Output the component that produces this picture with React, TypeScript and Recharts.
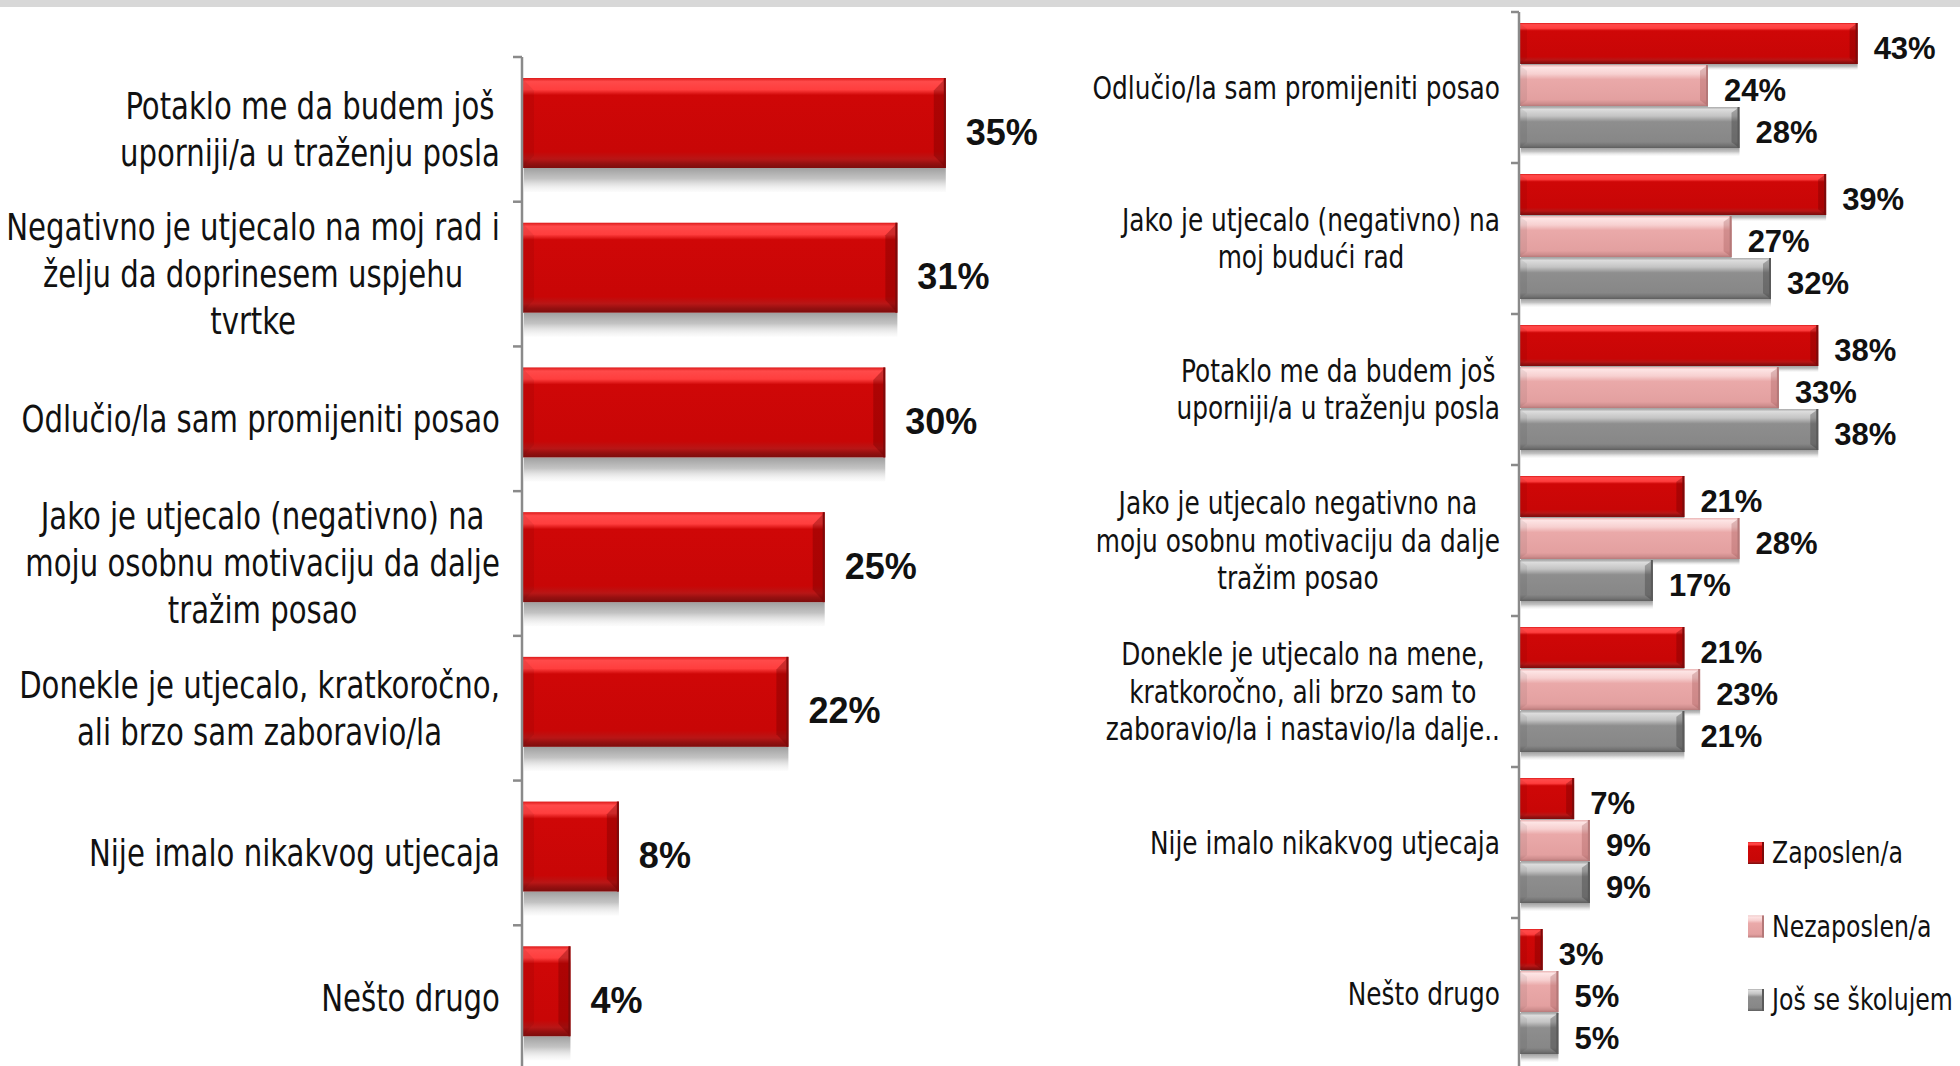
import React from 'react';
import { BarChart, Bar, XAxis, YAxis, LabelList, Legend } from 'recharts';

// ---------- DATA ----------
const leftCategories = [
  'Potaklo me da budem još\nuporniji/a u traženju posla',
  'Negativno je utjecalo na moj rad i\nželju da doprinesem uspjehu\ntvrtke',
  'Odlučio/la sam promijeniti posao',
  'Jako je utjecalo (negativno) na\nmoju osobnu motivaciju da dalje\ntražim posao',
  'Donekle je utjecalo, kratkoročno,\nali brzo sam zaboravio/la',
  'Nije imalo nikakvog utjecaja',
  'Nešto drugo',
];
const leftValues = [35, 31, 30, 25, 22, 8, 4];

const rightCategories = [
  'Odlučio/la sam promijeniti posao',
  'Jako je utjecalo (negativno) na\nmoj budući rad',
  'Potaklo me da budem još\nuporniji/a u traženju posla',
  'Jako je utjecalo negativno na\nmoju osobnu motivaciju da dalje\ntražim posao',
  'Donekle je utjecalo na mene,\nkratkoročno, ali brzo sam to\nzaboravio/la i nastavio/la dalje..',
  'Nije imalo nikakvog utjecaja',
  'Nešto drugo',
];
const seriesNames = ['Zaposlen/a', 'Nezaposlen/a', 'Još se školujem'];
const zaposlenValues = [43, 39, 38, 21, 21, 7, 3];
const nezaposlenValues = [24, 27, 33, 28, 23, 9, 5];
const skolujemValues = [28, 32, 38, 17, 21, 9, 5];

const leftData = leftCategories.map((name, i) => ({ name, value: leftValues[i] }));
const rightData = rightCategories.map((name, i) => ({
  name,
  zap: zaposlenValues[i],
  nez: nezaposlenValues[i],
  sko: skolujemValues[i],
}));

// ---------- STYLE ----------
const NARROW = "'DejaVu Sans Condensed', 'DejaVu Sans', sans-serif";
const SX = 0.876; // horizontal compression of label text
const BOLD = "'Liberation Sans', Arial, sans-serif";
const AXIS_COLOR = '#8a8a8a';

const KINDS: Record<string, { grad: string; edge: string; endDark: string }> = {
  red: { grad: 'url(#gRed)', edge: '#7e0a0a', endDark: 'rgba(110,0,0,0.35)' },
  pink: { grad: 'url(#gPink)', edge: '#b47878', endDark: 'rgba(140,60,60,0.25)' },
  gray: { grad: 'url(#gGray)', edge: '#5a5a5a', endDark: 'rgba(40,40,40,0.3)' },
};

let ctx: CanvasRenderingContext2D | null = null;
function textWidth(t: string, font: string): number {
  if (!ctx) ctx = document.createElement('canvas').getContext('2d');
  if (!ctx) return t.length * 10;
  ctx.font = font;
  return ctx.measureText(t).width;
}

function makeTick(fontSize: number, lineHeight: number, gap: number, band: number, tickLen: number) {
  return (props: any) => {
    const { x, y, payload } = props;
    const lines = String(payload.value).split('\n');
    const font = `${fontSize}px ${NARROW}`;
    const w = Math.max(...lines.map((l) => textWidth(l, font))) * SX;
    const cx = x - gap - w / 2;
    const top = y - ((lines.length - 1) * lineHeight) / 2;
    return (
      <g>
        <line x1={x - tickLen} x2={x} y1={y - band / 2} y2={y - band / 2} stroke={AXIS_COLOR} strokeWidth={2.5} />
        <text
          textAnchor="middle"
          fontFamily={NARROW}
          fontSize={fontSize}
          fill="#111"
          transform={`translate(${cx} 0) scale(${SX} 1) translate(${-cx} 0)`}
        >
          {lines.map((l, i) => (
            <tspan key={i} x={cx} y={top + i * lineHeight} dy="0.35em">
              {l}
            </tspan>
          ))}
        </text>
      </g>
    );
  };
}

function makeBarShape(kind: string, shift: number, shadowH: number, bevel: number) {
  const k = KINDS[kind];
  return (props: any) => {
    const { x, y, width, height } = props;
    if (!width || width <= 0) return <g />;
    const yy = y - shift;
    const b = Math.min(bevel, width / 3);
    const bh = height * 0.14;
    return (
      <g>
        {shadowH > 0 && (
          <rect x={x + 2} y={yy + height} width={Math.max(0, width - 2)} height={shadowH} fill="url(#gShadow)" />
        )}
        <rect x={x} y={yy} width={width} height={height} fill={k.grad} />
        <polygon
          points={`${x},${yy} ${x + b},${yy + bh} ${x + b},${yy + height - bh} ${x},${yy + height}`}
          fill="rgba(0,0,0,0.06)"
        />
        <polygon
          points={`${x + width},${yy} ${x + width - b},${yy + bh} ${x + width - b},${yy + height - bh} ${x + width},${yy + height}`}
          fill={k.endDark}
        />
        <rect x={x + width - 2} y={yy} width={2} height={height} fill={k.edge} />
      </g>
    );
  };
}

function makeValueLabel(fontSize: number, gap: number, dy: number) {
  return (props: any) => {
    const { x, y, width, height, value } = props;
    return (
      <text
        x={x + width + gap}
        y={y + height / 2 + dy}
        dy="0.35em"
        fontFamily={BOLD}
        fontWeight="bold"
        fontSize={fontSize}
        fill="#111"
      >
        {value}%
      </text>
    );
  };
}

const legendKinds = ['red', 'pink', 'gray'];
const LEGEND_STEP = 73.5;
const renderLegend = () => (
  <svg width={230} height={230}>
    {seriesNames.map((name, i) => {
      const cy = 36 + i * LEGEND_STEP;
      const tx = 26;
      return (
        <g key={name}>
          <rect x={2} y={cy - 11} width={16} height={22} fill={KINDS[legendKinds[i]].grad} />
          <rect x={16} y={cy - 11} width={2} height={22} fill={KINDS[legendKinds[i]].edge} />
          <text
            x={tx}
            y={cy}
            dy="0.35em"
            fontFamily={NARROW}
            fontSize={30}
            fill="#111"
            transform={`translate(${tx} 0) scale(${SX} 1) translate(${-tx} 0)`}
          >
            {name}
          </text>
        </g>
      );
    })}
  </svg>
);

// ---------- LAYOUT ----------
const LEFT_W = 1079;
const LEFT_H = 1075;
const LEFT_TOP = 57;
const LEFT_BOTTOM = 5;
const LEFT_AXIS_W = 522;
const LEFT_BAND = (LEFT_H - LEFT_TOP - LEFT_BOTTOM) / leftCategories.length;

const RIGHT_X = 1060;
const RIGHT_W = 900;
const RIGHT_H = 1075;
const RIGHT_TOP = 12;
const RIGHT_BOTTOM = 6;
const RIGHT_AXIS_W = 459;
const RIGHT_BAND = (RIGHT_H - RIGHT_TOP - RIGHT_BOTTOM) / rightCategories.length;

export default function App() {
  return (
    <div
      style={{
        position: 'absolute',
        left: 0,
        top: 0,
        width: 1960,
        height: 1066,
        overflow: 'hidden',
        background: '#ffffff',
      }}
    >
      <svg width={0} height={0} style={{ position: 'absolute' }}>
        <defs>
          <linearGradient id="gRed" x1="0" y1="0" x2="0" y2="1">
            <stop offset="0" stopColor="#dc1a1a" />
            <stop offset="0.04" stopColor="#ff4a4a" />
            <stop offset="0.13" stopColor="#ff3e3e" />
            <stop offset="0.19" stopColor="#cf0707" />
            <stop offset="0.82" stopColor="#c80606" />
            <stop offset="0.9" stopColor="#b81616" />
            <stop offset="0.95" stopColor="#951010" />
            <stop offset="1" stopColor="#7c0c0c" />
          </linearGradient>
          <linearGradient id="gPink" x1="0" y1="0" x2="0" y2="1">
            <stop offset="0" stopColor="#eab4b4" />
            <stop offset="0.06" stopColor="#fde4e4" />
            <stop offset="0.22" stopColor="#f7d0d0" />
            <stop offset="0.35" stopColor="#eaa9a9" />
            <stop offset="0.85" stopColor="#e3a0a0" />
            <stop offset="0.94" stopColor="#cf8e8e" />
            <stop offset="1" stopColor="#b87a7a" />
          </linearGradient>
          <linearGradient id="gGray" x1="0" y1="0" x2="0" y2="1">
            <stop offset="0" stopColor="#a8a8a8" />
            <stop offset="0.06" stopColor="#dcdcdc" />
            <stop offset="0.22" stopColor="#c4c4c4" />
            <stop offset="0.36" stopColor="#8e8e8e" />
            <stop offset="0.85" stopColor="#878787" />
            <stop offset="0.94" stopColor="#727272" />
            <stop offset="1" stopColor="#5e5e5e" />
          </linearGradient>
          <linearGradient id="gShadow" x1="0" y1="0" x2="0" y2="1">
            <stop offset="0" stopColor="#9a9a9a" stopOpacity="0.95" />
            <stop offset="0.45" stopColor="#b4b4b4" stopOpacity="0.8" />
            <stop offset="1" stopColor="#e8e8e8" stopOpacity="0.15" />
          </linearGradient>
        </defs>
      </svg>

      <div style={{ position: 'absolute', left: 0, top: 0, width: 1960, height: 7, background: '#d8d8d8' }} />

      <div style={{ position: 'absolute', left: 0, top: 0 }}>
        <BarChart
          width={LEFT_W}
          height={LEFT_H}
          data={leftData}
          layout="vertical"
          margin={{ top: LEFT_TOP, right: 0, bottom: LEFT_BOTTOM, left: 0 }}
        >
          <XAxis type="number" domain={[0, 46]} hide />
          <YAxis
            type="category"
            dataKey="name"
            width={LEFT_AXIS_W}
            axisLine={{ stroke: AXIS_COLOR, strokeWidth: 2.5 }}
            tickLine={false}
            tickSize={0}
            tickMargin={0}
            interval={0}
            tick={makeTick(37, 47, 22, LEFT_BAND, 9)}
          />
          <Bar
            dataKey="value"
            barSize={90}
            isAnimationActive={false}
            shape={makeBarShape('red', 6, 24, 12)}
          >
            <LabelList dataKey="value" content={makeValueLabel(36, 20, 3)} />
          </Bar>
        </BarChart>
      </div>

      <div style={{ position: 'absolute', left: RIGHT_X, top: 0 }}>
        <BarChart
          width={RIGHT_W}
          height={RIGHT_H}
          data={rightData}
          layout="vertical"
          barGap={1}
          margin={{ top: RIGHT_TOP, right: 0, bottom: RIGHT_BOTTOM, left: 0 }}
        >
          <XAxis type="number" domain={[0, 56]} hide />
          <YAxis
            type="category"
            dataKey="name"
            width={RIGHT_AXIS_W}
            axisLine={{ stroke: AXIS_COLOR, strokeWidth: 2.5 }}
            tickLine={false}
            tickSize={0}
            tickMargin={0}
            interval={0}
            tick={makeTick(31.5, 37.5, 19, RIGHT_BAND, 8)}
          />
          <Legend
            layout="vertical"
            align="center"
            verticalAlign="middle"
            content={renderLegend}
            wrapperStyle={{ position: 'absolute', left: 686, top: 817, width: 230, height: 230 }}
          />
          <Bar dataKey="zap" name={seriesNames[0]} barSize={41} isAnimationActive={false} shape={makeBarShape('red', 2, 6, 8)}>
            <LabelList dataKey="zap" content={makeValueLabel(31, 16, 3)} />
          </Bar>
          <Bar dataKey="nez" name={seriesNames[1]} barSize={41} isAnimationActive={false} shape={makeBarShape('pink', 2, 6, 8)}>
            <LabelList dataKey="nez" content={makeValueLabel(31, 16, 3)} />
          </Bar>
          <Bar dataKey="sko" name={seriesNames[2]} barSize={41} isAnimationActive={false} shape={makeBarShape('gray', 2, 8, 8)}>
            <LabelList dataKey="sko" content={makeValueLabel(31, 16, 3)} />
          </Bar>
        </BarChart>
      </div>
    </div>
  );
}
